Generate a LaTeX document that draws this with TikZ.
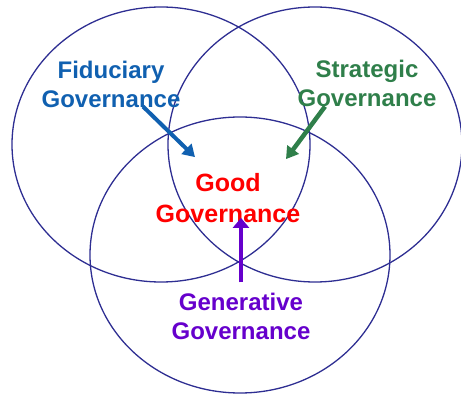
\documentclass[tikz,border=0pt]{standalone}
\usepackage{fontspec}
\setmainfont{Liberation Sans}
\usetikzlibrary{arrows.meta}
\definecolor{ringblue}{RGB}{46,46,146}
\definecolor{fidblue}{RGB}{16,96,176}
\definecolor{stratgreen}{RGB}{47,127,74}
\definecolor{genpurple}{RGB}{102,0,204}

\begin{document}
\begin{tikzpicture}[
  x=1pt, y=-1pt,
  ring/.style={draw=ringblue, line width=1.3pt},
  govtext/.style={font=\fontsize{24}{29}\selectfont\bfseries, align=center, inner sep=0pt},
  push/.style={line width=4.5pt, -{Triangle[length=12pt,width=14pt]}}
]
\useasboundingbox (0,0) rectangle (461,395);

\draw[ring] (161,144.5) ellipse [x radius=149, y radius=137.5];
\draw[ring] (315,144.5) ellipse [x radius=147, y radius=137.5];
\draw[ring] (240,255) ellipse [x radius=150, y radius=138];

\node[govtext, text=fidblue] (fid) at (111,84) {Fiduciary\\Governance};
\node[govtext, text=stratgreen] (strat) at (367,83) {Strategic\\Governance};
\node[govtext, text=red, font=\fontsize{25}{31}\selectfont\bfseries] (good) at (228,198) {Good\\Governance};
\node[govtext, text=genpurple] (gen) at (241,316) {Generative\\Governance};

\draw[push, fidblue, line width=4pt] ([xshift=32pt,yshift=1pt]fid.south) -- ([xshift=-33pt,yshift=16pt]good.north);
\draw[push, stratgreen] ([xshift=-42pt]strat.south) -- ([xshift=58pt,yshift=14pt]good.north);
\draw[push, genpurple, -{Triangle[length=10pt,width=16pt]}] ([yshift=10pt]gen.north) -- ([xshift=13pt,yshift=5pt]good.south);

\end{tikzpicture}
\end{document}
